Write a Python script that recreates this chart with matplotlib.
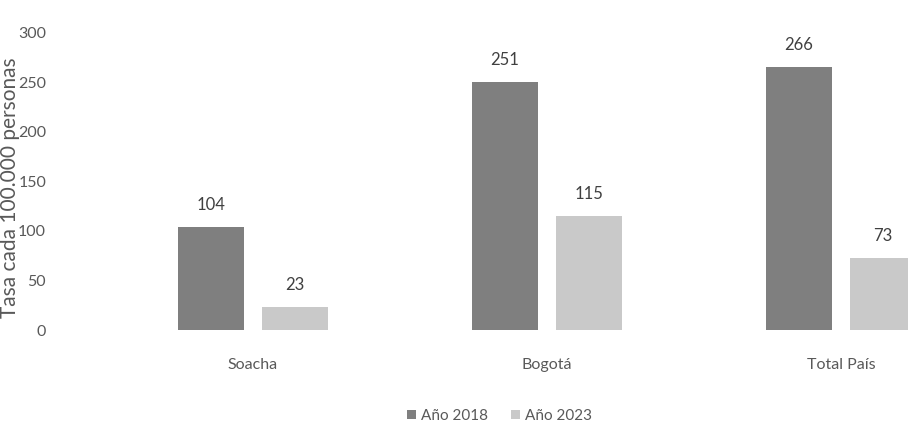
import matplotlib.pyplot as plt
import numpy as np

categories = ["Soacha", "Bogotá", "Total País"]
anio_2018 = [104, 251, 266]
anio_2023 = [23, 115, 73]
series_labels = ["Año 2018", "Año 2023"]

plt.rcParams["font.family"] = ["Lato", "DejaVu Sans"]
TEXT = "#595959"

fig = plt.figure(figsize=(9.08, 4.22), dpi=100)
ax = fig.add_axes([60 / 908, 1 - 330 / 422, 1 - 60 / 908, 297 / 422])

x = np.arange(len(categories))
w = 0.224
off = 0.143
b1 = ax.bar(x - off, anio_2018, w, color="#7f7f7f", label=series_labels[0])
b2 = ax.bar(x + off, anio_2023, w, color="#c9c9c9", label=series_labels[1])

for bars in (b1, b2):
    for rect in bars:
        h = rect.get_height()
        ax.annotate(str(int(h)), (rect.get_x() + rect.get_width() / 2, h),
                    xytext=(0, 10), textcoords="offset points",
                    ha="center", va="bottom", fontsize=12, color="#404040")

ax.set_xlim(-0.656, 2.228)
ax.set_ylim(0, 300)
ax.set_yticks(range(0, 301, 50))
ax.set_xticks(x)
ax.set_xticklabels(categories)
ax.tick_params(axis="both", length=0, labelsize=11.5, colors=TEXT)
ax.tick_params(axis="x", pad=20)
ax.tick_params(axis="y", pad=10)
for s in ax.spines.values():
    s.set_visible(False)
ax.set_ylabel("Tasa cada 100.000 personas", fontsize=15, color=TEXT)
ax.yaxis.set_label_coords(-40 / 848, 0.48)

fig.legend(loc="lower center", bbox_to_anchor=(0.55, -0.035), ncol=2, frameon=False,
           fontsize=11, labelcolor=TEXT, handlelength=0.6, handleheight=0.6,
           handletextpad=0.3, columnspacing=1.5)

fig.savefig("out.png", dpi=100)
